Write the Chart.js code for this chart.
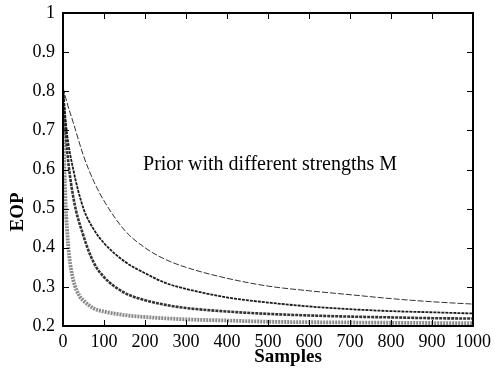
<!DOCTYPE html>
<html>
<head>
<meta charset="utf-8">
<script src="https://cdn.jsdelivr.net/npm/chart.js@4/dist/chart.umd.min.js"></script>
<style>
  html, body { margin: 0; padding: 0; background: #fff; }
  #wrap { width: 495px; height: 374px; }
</style>
</head>
<body>
<div id="wrap"><canvas id="eop-chart"></canvas></div>
<script>
// values (sample count -> EOP), one curve per prior strength
const samplesA = [0, 10, 25, 50, 75, 100, 150, 200, 250, 300, 400, 500, 600, 700, 800, 900, 1000];
const eopM1 = [0.81, 0.77, 0.72, 0.635, 0.57, 0.52, 0.445, 0.40, 0.37, 0.35, 0.322, 0.302, 0.29, 0.28, 0.27, 0.262, 0.256];
const eopM2 = [0.80, 0.69, 0.60, 0.50, 0.447, 0.412, 0.365, 0.335, 0.31, 0.295, 0.273, 0.26, 0.25, 0.243, 0.238, 0.235, 0.232];
const eopM3 = [0.80, 0.65, 0.53, 0.43, 0.362, 0.325, 0.285, 0.266, 0.254, 0.246, 0.237, 0.231, 0.227, 0.224, 0.222, 0.22, 0.219];

const samplesB = [0, 3, 6, 10, 15, 25, 40, 50, 75, 100, 150, 200, 300, 400, 500, 700, 1000];
const eopM4 = [0.80, 0.62, 0.52, 0.445, 0.38, 0.318, 0.277, 0.265, 0.245, 0.237, 0.228, 0.223, 0.217, 0.214, 0.211, 0.209, 0.207];

const xTicksMax = 1000;
const yMin = 0.2, yMax = 1;
const annotation = 'Prior with different strengths M';

const serif = "'Liberation Serif', 'DejaVu Serif', serif";

function pts(xs, ys) { return xs.map((x, i) => ({ x: x, y: ys[i] })); }

const frame = {
    id: 'frame',
    afterDatasetsDraw(chart) {
        const { ctx, chartArea: a, scales } = chart;
        ctx.save();
        ctx.strokeStyle = '#000';
        ctx.lineWidth = 1;
        // inner ticks on all four sides
        scales.x.ticks.forEach(t => {
            const px = Math.round(scales.x.getPixelForValue(t.value)) + 0.5;
            ctx.beginPath();
            ctx.moveTo(px, a.bottom); ctx.lineTo(px, a.bottom - 6);
            ctx.moveTo(px, a.top); ctx.lineTo(px, a.top + 6);
            ctx.stroke();
        });
        scales.y.ticks.forEach(t => {
            const py = Math.round(scales.y.getPixelForValue(t.value)) + 0.5;
            ctx.beginPath();
            ctx.moveTo(a.left, py); ctx.lineTo(a.left + 6, py);
            ctx.moveTo(a.right, py); ctx.lineTo(a.right - 6, py);
            ctx.stroke();
        });
        ctx.lineWidth = 2;
        ctx.strokeRect(a.left, a.top, a.right - a.left, a.bottom - a.top);

        // annotation text
        ctx.fillStyle = '#000';
        ctx.font = '20px ' + serif;
        ctx.textAlign = 'center';
        ctx.textBaseline = 'middle';
        ctx.fillText(annotation, scales.x.getPixelForValue(505), scales.y.getPixelForValue(0.611));

        // axis titles
        ctx.font = 'bold 19px ' + serif;
        ctx.fillText('Samples', 288, 357);
        ctx.save();
        ctx.translate(18, 212);
        ctx.rotate(-Math.PI / 2);
        ctx.fillText('EOP', 0, 0);
        ctx.restore();
        ctx.restore();
    }
};

const lineStyles = [
    { data: pts(samplesA, eopM1), color: '#333', width: 1, dash: [6, 2] },
    { data: pts(samplesA, eopM2), color: '#1a1a1a', width: 1.8, dash: [3, 1] },
    { data: pts(samplesA, eopM3), color: '#333', width: 2.6, dash: [3, 1] },
    { data: pts(samplesB, eopM4), color: '#8a8a8a', width: 3.8, dash: [2, 1] }
];

new Chart(document.getElementById('eop-chart'), {
    type: 'line',
    data: {
        datasets: lineStyles.map(s => ({
            data: s.data,
            borderColor: s.color,
            borderWidth: s.width,
            borderDash: s.dash,
            pointRadius: 0,
            fill: false,
            cubicInterpolationMode: 'monotone'
        }))
    },
    options: {
        responsive: true, maintainAspectRatio: false, animation: false,
        layout: { padding: { top: 13, right: 22, bottom: 0, left: 0 } },
        plugins: { legend: { display: false }, tooltip: { enabled: false } },
        scales: {
            x: {
                type: 'linear', min: 0, max: xTicksMax,
                grid: { display: false, drawTicks: false },
                border: { display: false },
                ticks: { stepSize: 100, color: '#000', padding: 5, maxRotation: 0, autoSkip: false,
                         font: { family: serif, size: 18 },
                         callback: v => String(v) },
                afterFit: s => { s.height = 48; s.paddingLeft = 0; s.paddingRight = 0; }
            },
            y: {
                min: yMin, max: yMax,
                grid: { display: false, drawTicks: false },
                border: { display: false },
                ticks: { stepSize: 0.1, color: '#000', padding: 8,
                         font: { family: serif, size: 18 },
                         callback: v => String(+v.toFixed(1)) },
                afterFit: s => { s.width = 63; s.paddingTop = 0; s.paddingBottom = 0; }
            }
        }
    },
    plugins: [frame]
});
</script>
</body>
</html>
